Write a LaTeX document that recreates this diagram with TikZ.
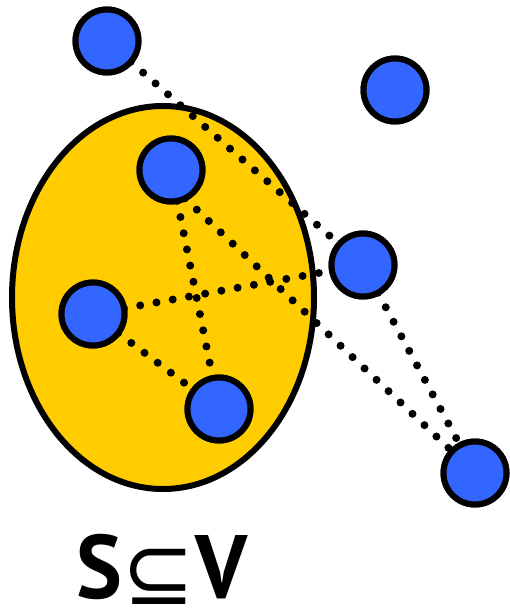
\documentclass[tikz,border=0pt]{standalone}
\usepackage{fontspec}
\usetikzlibrary{shapes.geometric}
\newfontfamily\lblfont{PT Sans}
\newfontfamily\symfont{DejaVu Sans}
\definecolor{setyellow}{RGB}{255,204,0}
\definecolor{vblue}{RGB}{51,102,255}
\tikzset{
  vertex/.style={circle, draw=black, line width=6pt, fill=vblue, minimum size=63pt, inner sep=0pt, outer sep=0pt},
  dotline/.style={line width=8pt, line cap=round, dash pattern=on 0pt off 16.5pt, black},
}
\begin{document}
\begin{tikzpicture}[x=1pt,y=-1pt]
\useasboundingbox (0,0) rectangle (510,612);
\node[ellipse, draw=black, line width=6pt, fill=setyellow, minimum width=302pt, minimum height=383pt, inner sep=0pt] (S) at (163,297.5) {};
\coordinate (a) at (107,41);
\coordinate (b) at (395,90);
\coordinate (c) at (171,170);
\coordinate (d) at (363,265);
\coordinate (e) at (93,314);
\coordinate (f) at (219,409);
\coordinate (g) at (475,473);
\path (a) node[vertex] (A) {} (b) node[vertex] (B) {} (c) node[vertex] (C) {}
      (d) node[vertex] (D) {} (e) node[vertex] (E) {} (f) node[vertex] (F) {}
      (g) node[vertex] (G) {};
\draw[dotline] (A) -- (D);
\draw[dotline] (C) -- (F);
\draw[dotline] (C.-64) -- (G);
\draw[dotline] (E) -- (D);
\draw[dotline] (E) -- (F);
\draw[dotline] (D) -- (G);
\foreach \n/\p in {A/a,B/b,C/c,D/d,E/e,F/f,G/g} \node[vertex] at (\p) {};
\node[anchor=base, inner sep=0pt, xscale=0.96] (L) at (162,598) {\fontsize{90}{90}\selectfont\lblfont\bfseries S{\symfont\mdseries\raisebox{-6pt}{⊆}}V};
\end{tikzpicture}
\end{document}
